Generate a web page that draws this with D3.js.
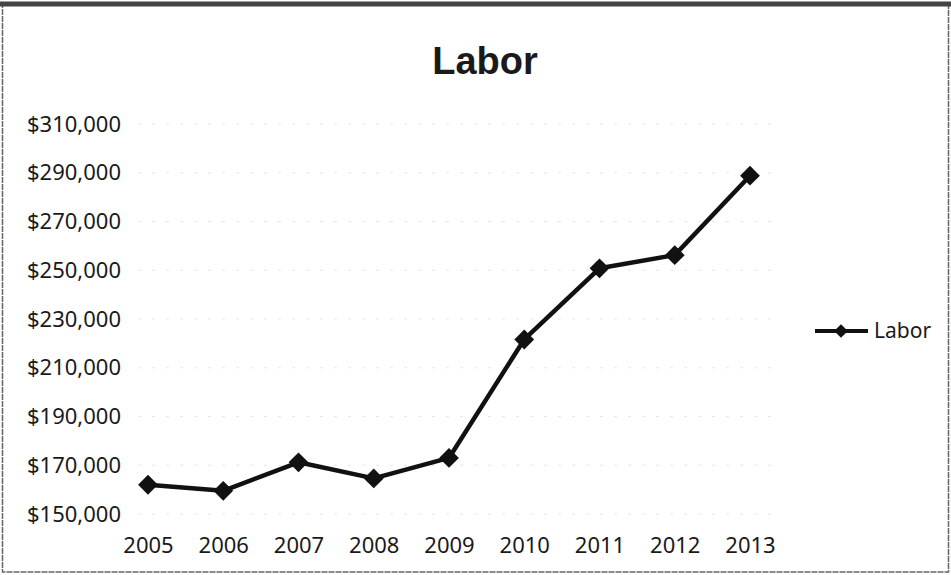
<!DOCTYPE html>
<html>
<head>
<meta charset="utf-8">
<script src="https://cdn.jsdelivr.net/npm/d3@7"></script>
<style>
  body { margin: 0; background: #fff; }
  text { font-family: "Noto Sans", "Open Sans", sans-serif; fill: #1a1a1a; }
  .axis path, .axis line { display: none; }
</style>
</head>
<body>
<svg id="svg" width="951" height="575"></svg>
<script>
// data
var years = ["2005", "2006", "2007", "2008", "2009", "2010", "2011", "2012", "2013"];
var labor = [162000, 159500, 171200, 164600, 173000, 221600, 250800, 256200, 288800];
var yTicks = [150000, 170000, 190000, 210000, 230000, 250000, 270000, 290000, 310000];
var seriesName = "Labor";

var svg = d3.select("svg"),
    width = 951,
    height = 575;

// frame
svg.append("rect")
  .attr("x", 2.5).attr("y", 4)
  .attr("width", width - 5).attr("height", height - 7)
  .attr("fill", "none")
  .attr("stroke", "#666")
  .attr("stroke-width", 1.5)
  .attr("stroke-dasharray", "6,1");
svg.append("line")
  .attr("x1", 0).attr("x2", width)
  .attr("y1", 4).attr("y2", 4)
  .attr("stroke", "#444")
  .attr("stroke-width", 5);

var x = d3.scalePoint()
    .domain(years)
    .range([148, 750]);

var y = d3.scaleLinear()
    .domain([150000, 310000])
    .range([514, 124]);

// faint gridlines
svg.append("g")
  .selectAll("line")
  .data(yTicks)
  .enter().append("line")
  .attr("x1", 138).attr("x2", 780)
  .attr("y1", function(d) { return y(d); })
  .attr("y2", function(d) { return y(d); })
  .attr("stroke", "#e6e6e6")
  .attr("stroke-width", 1)
  .attr("stroke-dasharray", "3,11");

// y axis
svg.append("g")
  .attr("class", "axis")
  .attr("transform", "translate(127,0)")
  .call(d3.axisLeft(y).tickValues(yTicks).tickSize(0).tickPadding(6).tickFormat(d3.format("$,")))
  .selectAll("text")
  .style("font-size", "22px")
  .style("fill", "#1a1a1a");

// x axis
svg.append("g")
  .attr("class", "axis")
  .attr("transform", "translate(0,514)")
  .call(d3.axisBottom(x).tickSize(0).tickPadding(23))
  .selectAll("text")
  .style("font-size", "22px")
  .style("fill", "#1a1a1a");

// title
svg.append("text")
  .attr("x", 485)
  .attr("y", 74)
  .attr("text-anchor", "middle")
  .style("font-family", "'Liberation Sans', Arial, sans-serif")
  .style("font-weight", "bold")
  .style("font-size", "38px")
  .text("Labor");

// line
var line = d3.line()
  .x(function(d, i) { return x(years[i]); })
  .y(function(d) { return y(d); });

svg.append("path")
  .datum(labor)
  .attr("fill", "none")
  .attr("stroke", "#111")
  .attr("stroke-width", 4.5)
  .attr("stroke-linejoin", "round")
  .attr("d", line);

var diamond = d3.symbol().type(d3.symbolDiamond2).size(250);

svg.append("g")
  .selectAll("path")
  .data(labor)
  .enter().append("path")
  .attr("d", diamond)
  .attr("fill", "#111")
  .attr("transform", function(d, i) { return "translate(" + x(years[i]) + "," + y(d) + ")"; });

// legend
var legend = svg.append("g").attr("transform", "translate(815,331)");
legend.append("line")
  .attr("x1", 0).attr("x2", 53)
  .attr("stroke", "#111")
  .attr("stroke-width", 4);
legend.append("path")
  .attr("d", d3.symbol().type(d3.symbolDiamond2).size(120))
  .attr("fill", "#111")
  .attr("transform", "translate(26,0)");
legend.append("text")
  .attr("x", 59)
  .attr("y", 7)
  .style("font-size", "21px")
  .text(seriesName);
</script>
</body>
</html>
